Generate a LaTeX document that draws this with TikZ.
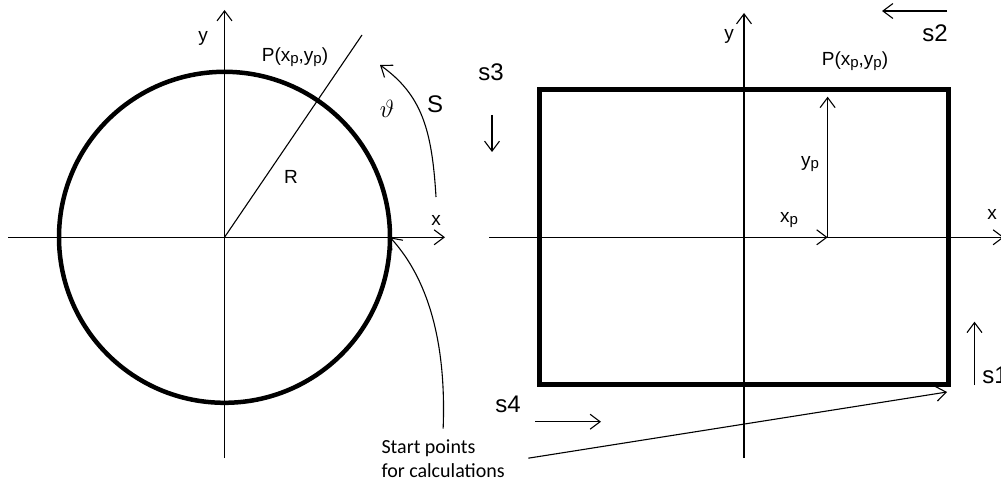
\documentclass[tikz,border=0pt]{standalone}
\usepackage{fontspec}
\setmainfont{Liberation Sans}
\newfontfamily\notefont{Carlito}
\usetikzlibrary{arrows.meta}
\newcommand{\lowsub}[1]{\raisebox{-2pt}{\fontsize{15}{15}\selectfont #1}}

\begin{document}
\begin{tikzpicture}[x=1pt, y=-1pt, line width=1.1pt,
    every node/.style={inner sep=1pt, font=\fontsize{19}{22}\selectfont},
    arr/.style={-{Straight Barb[length=10pt, width=15pt]}},
    outline/.style={line width=4.5pt},
    sidelabel/.style={font=\fontsize{24}{28}\selectfont}]
    \useasboundingbox (0,0) rectangle (1001,484);
    \coordinate (o1) at (224.5,237.3);
    \coordinate (xa1) at (8,237.3);
    \coordinate (xb1) at (445,237.3);
    \coordinate (ya1) at (224.5,458);
    \coordinate (yb1) at (224.5,10);
    \coordinate (p1) at (362,35);
    \coordinate (c0) at (390,237.3);
    \coordinate (sa) at (436,197);
    \coordinate (sb) at (380,65);
    \draw[arr] (xa1) -- (xb1);
    \draw[arr] (ya1) -- (yb1);
    \draw (o1) -- (p1);
    \draw[outline] (o1) circle[radius=165.5];
    \draw[arr] (sa) .. controls (432,130) and (422,95) .. (sb);
    \node (y1) at (203,38) {y};
    \node (x1) at (436,220) {x};
    \node (P1) at (295,57) {P(x\lowsub{p},y\lowsub{p})};
    \node (R) at (291,177) {R};
    \node[font=\fontsize{23}{26}\selectfont] (th) at (387,109) {$\vartheta$};
    \node[sidelabel] (S) at (435,104) {S};

    \coordinate (o2) at (744,237.3);
    \coordinate (xa2) at (489,237.3);
    \coordinate (xb2) at (1004,237.3);
    \coordinate (ya2) at (744,458);
    \coordinate (yb2) at (744,13);
    \coordinate (xp) at (827.6,237.3);
    \coordinate (pp) at (827.6,96.7);
    \coordinate (r0) at (947,392);
    \draw[arr] (xa2) -- (xb2);
    \draw[arr] (ya2) -- (yb2);
    \draw[outline] (539.5,89.5) rectangle (948.5,384.5);
    \draw[arr] (o2) -- (xp);
    \draw[arr] (xp) -- (pp);
    \node (y2) at (729,36) {y};
    \node (x2) at (992,214) {x};
    \node (P2) at (855,61) {P(x\lowsub{p},y\lowsub{p})};
    \node (xpl) at (789,220) {x\lowsub{p}};
    \node (ypl) at (810,164) {y\lowsub{p}};
    \foreach \i/\from/\to/\at in {1/{974.5,385}/{974.5,321.7}/{995,375},
        2/{947,11}/{882,11}/{935,33}, 3/{492,115}/{492,152}/{491,72},
        4/{535,421.7}/{601,421.7}/{508,404}} {
        \node[sidelabel] (s\i) at (\at) {s\i};
        \draw[arr] (\from) -- (\to);
    }

    \node[font=\notefont\fontsize{20}{24}\selectfont, align=left, anchor=base west] (note) at (380,477) {Start points\\for calculations};
    \draw[arr] ([yshift=9pt]note.north) .. controls (447,330) and (422,272) .. (c0);
    \draw[arr] ([xshift=22pt]note.east) -- (r0);
\end{tikzpicture}
\end{document}
